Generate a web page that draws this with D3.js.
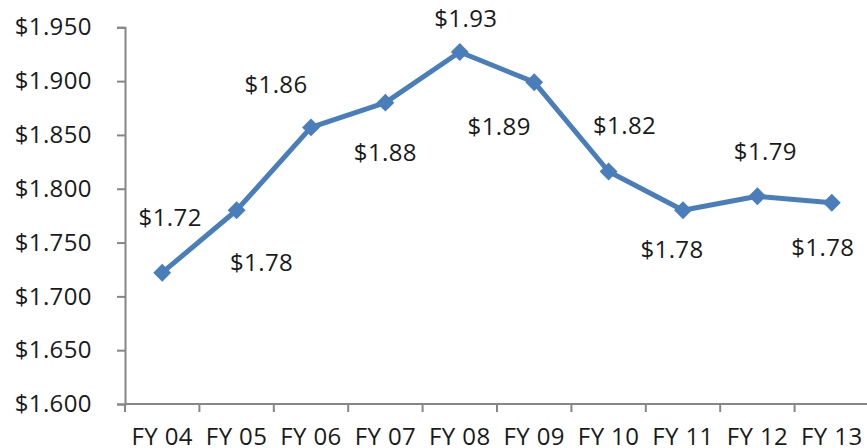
<!DOCTYPE html>
<html>
<head>
<meta charset="utf-8">
<script src="https://cdn.jsdelivr.net/npm/d3@7"></script>
<style>
  body { margin: 0; background: #fff; }
  text { font-family: "Open Sans", sans-serif; fill: #1a1a1a; letter-spacing: 0.4px; }
</style>
</head>
<body>
<svg id="chart" width="867" height="448"></svg>
<script>
// chart data
const years = ['FY 04', 'FY 05', 'FY 06', 'FY 07', 'FY 08', 'FY 09', 'FY 10', 'FY 11', 'FY 12', 'FY 13'];
const costs = [1.722, 1.780, 1.857, 1.880, 1.927, 1.899, 1.816, 1.780, 1.793, 1.787];
const valueLabels = ['$1.72', '$1.78', '$1.86', '$1.88', '$1.93', '$1.89', '$1.82', '$1.78', '$1.79', '$1.78'];
const yTicks = [1.600, 1.650, 1.700, 1.750, 1.800, 1.850, 1.900, 1.950];

// label placement (px offsets from the marker), as hand-placed in the original
const labelDx = [8, 25, -35, 0, 6, -35, 16, -11, 8, -9];
const labelDy = [-55, 52, -43, 50, -33, 44, -46, 39, -45, 45];

const svg = d3.select('#chart');
const plotLeft = 125, plotRight = 869, plotTop = 27.3, plotBottom = 404;

const xScale = d3.scaleBand()
    .domain(years)
    .range([plotLeft, plotRight]);

const yScale = d3.scaleLinear()
    .domain([1.6, 1.95])
    .range([plotBottom, plotTop]);

const axisColor = '#868686';
const fontSize = 24;

// y axis
const yAxis = svg.append('g')
    .attr('transform', `translate(${plotLeft},0)`)
    .call(d3.axisLeft(yScale).tickValues(yTicks).tickSize(8).tickPadding(25)
        .tickFormat(d => '$' + d3.format('.3f')(d)));
yAxis.select('.domain').attr('stroke', axisColor).attr('stroke-width', 2);
yAxis.selectAll('.tick line').attr('stroke', axisColor).attr('stroke-width', 2);
yAxis.selectAll('.tick text')
    .attr('font-size', fontSize)
    .attr('font-family', '"Open Sans", sans-serif')
    .attr('fill', '#1a1a1a');

// x axis with ticks between categories
const xAxis = svg.append('g')
    .attr('transform', `translate(0,${plotBottom})`);
xAxis.append('line')
    .attr('x1', plotLeft).attr('x2', plotRight)
    .attr('stroke', axisColor).attr('stroke-width', 2);
xAxis.selectAll('.xtick')
    .data(years)
    .join('line')
    .attr('class', 'xtick')
    .attr('x1', d => xScale(d)).attr('x2', d => xScale(d))
    .attr('y1', 0).attr('y2', 8)
    .attr('stroke', axisColor).attr('stroke-width', 2);
xAxis.selectAll('.xlabel')
    .data(years)
    .join('text')
    .attr('class', 'xlabel')
    .attr('x', d => xScale(d) + xScale.bandwidth() / 2)
    .attr('y', 41)
    .attr('text-anchor', 'middle')
    .attr('font-size', fontSize)
    .text(d => d);

const cx = (d, i) => xScale(years[i]) + xScale.bandwidth() / 2;

// the line
const line = d3.line()
    .x((d, i) => cx(d, i))
    .y(d => yScale(d));

svg.append('path')
    .attr('d', line(costs))
    .attr('fill', 'none')
    .attr('stroke', '#4A7EBB')
    .attr('stroke-width', 5)
    .attr('stroke-linejoin', 'round');

// diamond markers
const diamond = d3.symbol().type(d3.symbolSquare).size(160);
svg.append('g')
    .selectAll('path')
    .data(costs)
    .join('path')
    .attr('d', diamond)
    .attr('transform', (d, i) => `translate(${cx(d, i)},${yScale(d)}) rotate(45)`)
    .attr('fill', '#4A7EBB');

// value labels
svg.append('g')
    .selectAll('text')
    .data(costs)
    .join('text')
    .attr('x', (d, i) => cx(d, i) + labelDx[i])
    .attr('y', (d, i) => yScale(d) + labelDy[i])
    .attr('dy', '0.35em')
    .attr('text-anchor', 'middle')
    .attr('font-size', fontSize)
    .text((d, i) => valueLabels[i]);
</script>
</body>
</html>
